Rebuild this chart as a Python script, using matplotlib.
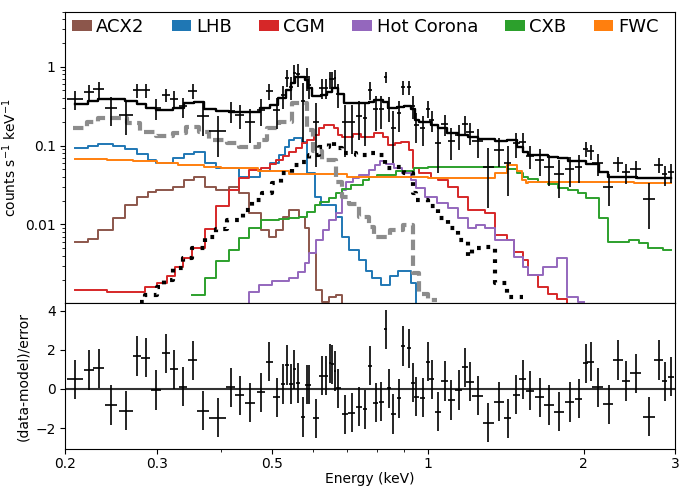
import matplotlib
matplotlib.use("Agg")
import matplotlib.pyplot as plt
from matplotlib.patches import Patch
from matplotlib import ticker

# ---------------- data ----------------
# model components: left bin edges (keV) and values (counts/s/keV), plus end energy
acx2_e = [0.2084,0.2211,0.231,0.2465,0.2605,0.2744,0.288,0.2994,0.323,0.338,0.354,0.371,0.39,0.414,0.433,0.452,0.477,0.494,0.51,0.525,0.54,0.564,0.58,0.59,0.61,0.625,0.645,0.664,0.683]
acx2_v = [0.006,0.0066,0.0084,0.0122,0.0177,0.022,0.0258,0.0272,0.030,0.0366,0.0405,0.030,0.0273,0.030,0.025,0.0138,0.0085,0.007,0.0085,0.0125,0.0152,0.0125,0.0091,0.0043,0.00146,0.00104,0.0012,0.00128,0.0009]
acx2_end = 0.70

lhb_e = [0.2084,0.2211,0.231,0.2465,0.2605,0.2744,0.288,0.2994,0.323,0.338,0.354,0.371,0.39,0.4327,0.475,0.497,0.517,0.53,0.54,0.553,0.571,0.585,0.607,0.623,0.664,0.683,0.704,0.736,0.76,0.78,0.813,0.847,0.878,0.93,0.95]
lhb_v = [0.093,0.1,0.104,0.1,0.09,0.078,0.066,0.06,0.069,0.079,0.082,0.06,0.0515,0.0405,0.047,0.06,0.076,0.097,0.118,0.124,0.112,0.045,0.0225,0.0175,0.0125,0.007,0.0047,0.0035,0.0026,0.0021,0.0017,0.0022,0.0026,0.0018,0.0008]
lhb_end = 1.0

cgm_e = [0.2084,0.24,0.285,0.3,0.314,0.326,0.337,0.351,0.371,0.39,0.414,0.4327,0.4523,0.477,0.497,0.51,0.525,0.54,0.556,0.572,0.585,0.603,0.616,0.63,0.66,0.67,0.684,0.716,0.745,0.786,0.821,0.84,0.866,0.89,0.92,0.935,0.96,1.013,1.048,1.096,1.145,1.197,1.29,1.35,1.42,1.47,1.53,1.56,1.63,1.705,1.78,1.86]
cgm_v = [0.00146,0.0014,0.0016,0.0018,0.0022,0.0029,0.0037,0.005,0.0087,0.017,0.0273,0.039,0.049,0.052,0.058,0.065,0.074,0.084,0.093,0.107,0.118,0.137,0.166,0.183,0.166,0.137,0.13,0.14,0.13,0.144,0.128,0.102,0.107,0.112,0.088,0.0515,0.0446,0.0386,0.0366,0.0302,0.0225,0.0152,0.0139,0.0074,0.0063,0.0045,0.0035,0.0023,0.0016,0.0013,0.00112,0.0009]
cgm_end = 1.95

hot_e = [0.433,0.4523,0.4727,0.5,0.54,0.562,0.58,0.59,0.61,0.627,0.645,0.664,0.683,0.697,0.716,0.736,0.769,0.79,0.81,0.83,0.86,0.894,0.93,0.95,0.99,1.04,1.096,1.145,1.197,1.24,1.29,1.35,1.47,1.53,1.56,1.67,1.78,1.86,1.95]
hot_v = [0.0009,0.0014,0.0017,0.0019,0.0021,0.0025,0.0032,0.0043,0.0063,0.0085,0.0113,0.0139,0.0273,0.035,0.039,0.0426,0.049,0.057,0.064,0.058,0.0515,0.0446,0.0366,0.029,0.0225,0.0185,0.0161,0.012,0.0089,0.0098,0.009,0.0063,0.0039,0.0029,0.0023,0.0029,0.0037,0.0012,0.00104]
hot_end = 2.0

cxb_e = [0.351,0.371,0.39,0.414,0.433,0.452,0.477,0.517,0.54,0.565,0.585,0.605,0.62,0.645,0.664,0.683,0.71,0.75,0.769,0.80,0.87,0.94,1.0,1.13,1.3,1.42,1.487,1.53,1.561,1.631,1.705,1.782,1.863,1.947,2.02,2.136,2.228,2.45,2.56,2.66,2.85]
cxb_v = [0.00128,0.0021,0.0034,0.0047,0.0067,0.009,0.0113,0.0118,0.012,0.0125,0.0145,0.0175,0.0194,0.0215,0.025,0.028,0.0317,0.0366,0.0395,0.0426,0.048,0.0515,0.053,0.054,0.053,0.05,0.0446,0.0405,0.038,0.035,0.033,0.0288,0.027,0.025,0.0215,0.012,0.006,0.0063,0.0058,0.005,0.0047]
cxb_end = 2.95

fwc_e = [0.2084,0.24,0.27,0.30,0.33,0.37,0.40,0.47,0.54,0.70,0.80,1.0,1.2,1.35,1.42,1.487,1.52,1.55,1.56,2.0,2.5]
fwc_v = [0.068,0.066,0.063,0.060,0.057,0.053,0.0515,0.047,0.0434,0.0405,0.0395,0.039,0.0386,0.0446,0.057,0.047,0.0366,0.0334,0.035,0.0345,0.034]
fwc_end = 2.95

dash_e = [0.207,0.2205,0.2315,0.2625,0.278,0.2994,0.323,0.341,0.3625,0.3789,0.4098,0.4327,0.4727,0.489,0.517,0.548,0.584,0.60,0.625,0.665,0.683,0.705,0.736,0.77,0.786,0.847,0.896,0.937,0.96,1.0]
dash_v = [0.166,0.202,0.223,0.196,0.15,0.133,0.146,0.171,0.15,0.118,0.107,0.097,0.118,0.168,0.202,0.35,0.16,0.085,0.066,0.035,0.022,0.018,0.0124,0.0093,0.007,0.0085,0.0098,0.0024,0.0013,0.0011]
dash_end = 1.04

dot_e = [0.278,0.285,0.3,0.31,0.323,0.337,0.351,0.371,0.39,0.41,0.44,0.458,0.478,0.5,0.522,0.546,0.571,0.59,0.616,0.644,0.66,0.684,0.726,0.769,0.804,0.827,0.866,0.9,0.935,0.948,1.003,1.048,1.096,1.145,1.197,1.22,1.29,1.35,1.42]
dot_v = [0.00104,0.00127,0.0016,0.002,0.0028,0.0037,0.005,0.007,0.0088,0.0114,0.0152,0.0204,0.025,0.0334,0.0446,0.057,0.0627,0.076,0.097,0.112,0.094,0.08,0.076,0.08,0.076,0.052,0.054,0.045,0.025,0.0204,0.0169,0.012,0.0091,0.0063,0.004,0.005,0.0052,0.0018,0.0012]
dot_end = 1.53

tot_e = [0.2084,0.2211,0.2314,0.2605,0.2744,0.2858,0.2994,0.3231,0.338,0.3536,0.3706,0.3903,0.414,0.436,0.475,0.497,0.515,0.533,0.545,0.555,0.58,0.587,0.597,0.623,0.64,0.655,0.672,0.69,0.769,0.786,0.821,0.84,0.873,0.901,0.93,0.945,0.96,1.013,1.048,1.091,1.145,1.197,1.251,1.35,1.42,1.487,1.53,1.561,1.705,1.782,1.863,2.02,2.136,2.228,2.53,2.656]
tot_v = [0.338,0.37,0.392,0.37,0.338,0.304,0.284,0.304,0.346,0.356,0.293,0.276,0.27,0.263,0.30,0.33,0.40,0.51,0.62,0.74,0.68,0.54,0.42,0.44,0.48,0.54,0.45,0.35,0.36,0.381,0.36,0.30,0.31,0.32,0.29,0.212,0.198,0.183,0.166,0.143,0.137,0.13,0.12,0.113,0.118,0.097,0.084,0.076,0.0725,0.069,0.0644,0.0585,0.046,0.0403,0.039,0.0385]
tot_end = 2.95

# data points
data_e = [.2085,.222,.232,.245,.2617,.2746,.2856,.299,.3125,.324,.337,.352,.368,.393,.4166,.434,.454,.477,.495,.511,.526,.535,.544,.553,.563,.575,.584,.591,.609,.624,.636,.648,.654,.662,.672,.692,.713,.737,.757,.774,.793,.814,.829,.841,.858,.882,.897,.920,.936,.951,.979,1.001,1.017,1.047,1.078,1.111,1.147,1.180,1.208,1.248,1.309,1.372,1.426,1.481,1.524,1.575,1.644,1.715,1.796,1.878,1.955,2.016,2.063,2.128,2.233,2.331,2.413,2.522,2.672,2.789,2.864,2.95]
data_xerr = [.0073,.005,.0055,.0065,.008,.005,.006,.007,.006,.0058,.0065,.0075,.01,.015,.008,.009,.01,.009,.0075,.0075,.0045,.0045,.0045,.0045,.005,.005,.004,.005,.008,.006,.006,.003,.004,.004,.008,.01,.01,.01,.008,.008,.01,.008,.006,.007,.01,.008,.008,.009,.008,.01,.011,.008,.013,.015,.016,.017,.016,.014,.02,.03,.033,.03,.025,.023,.023,.03,.035,.04,.04,.04,.03,.024,.03,.05,.05,.05,.045,.06,.07,.05,.035,.04]
data_v = [.388,.478,.515,.296,.248,.508,.50,.30,.439,.395,.315,.499,.239,.154,.276,.243,.199,.282,.492,.28,.435,.728,.555,.837,.818,.37,.732,.582,.20,.545,.545,.698,.69,.714,.455,.197,.202,.24,.223,.51,.288,.294,.743,.303,.166,.258,.548,.552,.322,.183,.168,.294,.214,.109,.19,.115,.135,.19,.147,.115,.054,.089,.061,.107,.112,.074,.0655,.0535,.0434,.0508,.0543,.0914,.0845,.060,.0302,.0594,.0456,.0506,.0211,.0567,.0433,.046]
data_err = [.101,.111,.118,.118,.111,.101,.101,.091,.085,.091,.091,.104,.107,.083,.081,.081,.092,.105,.116,.116,.14,.179,.179,.217,.259,.259,.238,.189,.147,.154,.154,.168,.168,.189,.158,.126,.123,.123,.123,.126,.133,.133,.126,.105,.105,.109,.109,.112,.102,.074,.069,.069,.064,.064,.058,.05,.048,.048,.046,.046,.038,.036,.038,.038,.031,.024,.024,.023,.022,.0206,.0206,.0206,.0187,.0187,.0129,.0129,.0129,.0129,.0123,.0123,.0123,.0123]
resid = [.49,.97,1.05,-.82,-1.1,1.68,1.6,-.05,1.82,1.0,.12,1.47,-1.1,-1.47,.08,-.33,-.7,-.17,1.4,-.43,.25,1.22,.25,1.0,.3,-1.43,.22,.22,-1.5,.68,.68,1.3,1.25,.92,.03,-1.29,-1.21,-.9,-1.04,1.19,-.7,-.65,3.04,.03,-1.28,-.48,2.19,2.07,.32,-.39,-.44,1.39,.49,-1.16,.41,-.56,-.05,1.1,.37,-.34,-1.72,-.65,-1.5,-.29,.49,-.09,-.43,-.82,-1.16,-.66,-.49,1.31,1.39,.09,-.78,1.48,.41,.8,-1.41,1.48,.39,.63]
resid_err = [1.0] * len(resid)

legend_labels = ["ACX2", "LHB", "CGM", "Hot Corona", "CXB", "FWC"]
legend_colors = ["#8c564b", "#1f77b4", "#d62728", "#9467bd", "#2ca02c", "#ff7f0e"]

x_major = [0.2, 0.3, 0.5, 1, 2, 3]
x_minor = [0.4, 0.6, 0.7, 0.8, 0.9]

# ---------------- figure ----------------
fig = plt.figure(figsize=(6.8, 4.86), dpi=100)
ax1 = fig.add_axes([0.0963, 0.376, 0.8963, 0.600])
ax2 = fig.add_axes([0.0963, 0.0761, 0.8963, 0.2999])


def steps(ax, e, v, end, **kw):
    ax.step(list(e) + [end], list(v) + [v[-1]], where="post", **kw)


steps(ax1, acx2_e, acx2_v, acx2_end, color=legend_colors[0], lw=1.4)
steps(ax1, lhb_e, lhb_v, lhb_end, color=legend_colors[1], lw=1.4)
steps(ax1, cgm_e, cgm_v, cgm_end, color=legend_colors[2], lw=1.4)
steps(ax1, hot_e, hot_v, hot_end, color=legend_colors[3], lw=1.4)
steps(ax1, cxb_e, cxb_v, cxb_end, color=legend_colors[4], lw=1.4)
steps(ax1, fwc_e, fwc_v, fwc_end, color=legend_colors[5], lw=1.4)
steps(ax1, dash_e, dash_v, dash_end, color="#8c8c8c", lw=3, linestyle=(0, (2.5, 1.3)))
steps(ax1, dot_e, dot_v, dot_end, color="black", lw=3, linestyle=(0, (0.9, 1.6)))
steps(ax1, tot_e, tot_v, tot_end, color="black", lw=1.7)

ax1.errorbar(data_e, data_v, xerr=data_xerr, yerr=data_err, fmt="none",
             ecolor="black", elinewidth=1.2, capsize=0, zorder=5)

ax1.set_xscale("log")
ax1.set_yscale("log")
ax1.set_xlim(0.2, 3)
ax1.set_ylim(1e-3, 5)
ax1.yaxis.set_major_locator(ticker.FixedLocator([0.01, 0.1, 1]))
ax1.yaxis.set_major_formatter(ticker.FuncFormatter(lambda v, p: f"{v:g}"))
ax1.yaxis.set_minor_formatter(ticker.NullFormatter())
ax1.xaxis.set_major_locator(ticker.FixedLocator(x_major))
ax1.xaxis.set_minor_locator(ticker.FixedLocator(x_minor))
ax1.tick_params(axis="x", which="both", labelbottom=False, length=0)
ax1.set_ylabel("counts s$^{-1}$ keV$^{-1}$", fontsize=10)

handles = [Patch(facecolor=c, edgecolor="none") for c in legend_colors]
ax1.legend(handles, legend_labels, loc="upper left", bbox_to_anchor=(0.0, 1.0),
           ncol=6, frameon=False, fontsize=13, handlelength=1.1,
           handleheight=0.55, handletextpad=0.25, columnspacing=1.5,
           borderaxespad=0.15, borderpad=0.2)

# residual panel
ax2.axhline(0, color="#333333", lw=1.5, zorder=1)
ax2.errorbar(data_e, resid, xerr=data_xerr, yerr=resid_err, fmt="none",
             ecolor="black", elinewidth=1.2, capsize=0, zorder=5)
ax2.set_xscale("log")
ax2.set_xlim(0.2, 3)
ax2.set_ylim(-3.06, 4.37)
ax2.set_yticks([-2, 0, 2, 4])
ax2.xaxis.set_major_locator(ticker.FixedLocator(x_major))
ax2.xaxis.set_major_formatter(ticker.FuncFormatter(lambda v, p: f"{v:g}"))
ax2.xaxis.set_minor_locator(ticker.FixedLocator(x_minor))
ax2.xaxis.set_minor_formatter(ticker.NullFormatter())
ax2.tick_params(axis="x", which="both", pad=2)
ax2.set_xlabel("Energy (keV)", fontsize=10, labelpad=1)
ax2.set_ylabel("(data-model)/error", fontsize=10)

fig.savefig("out.png", dpi=100)
